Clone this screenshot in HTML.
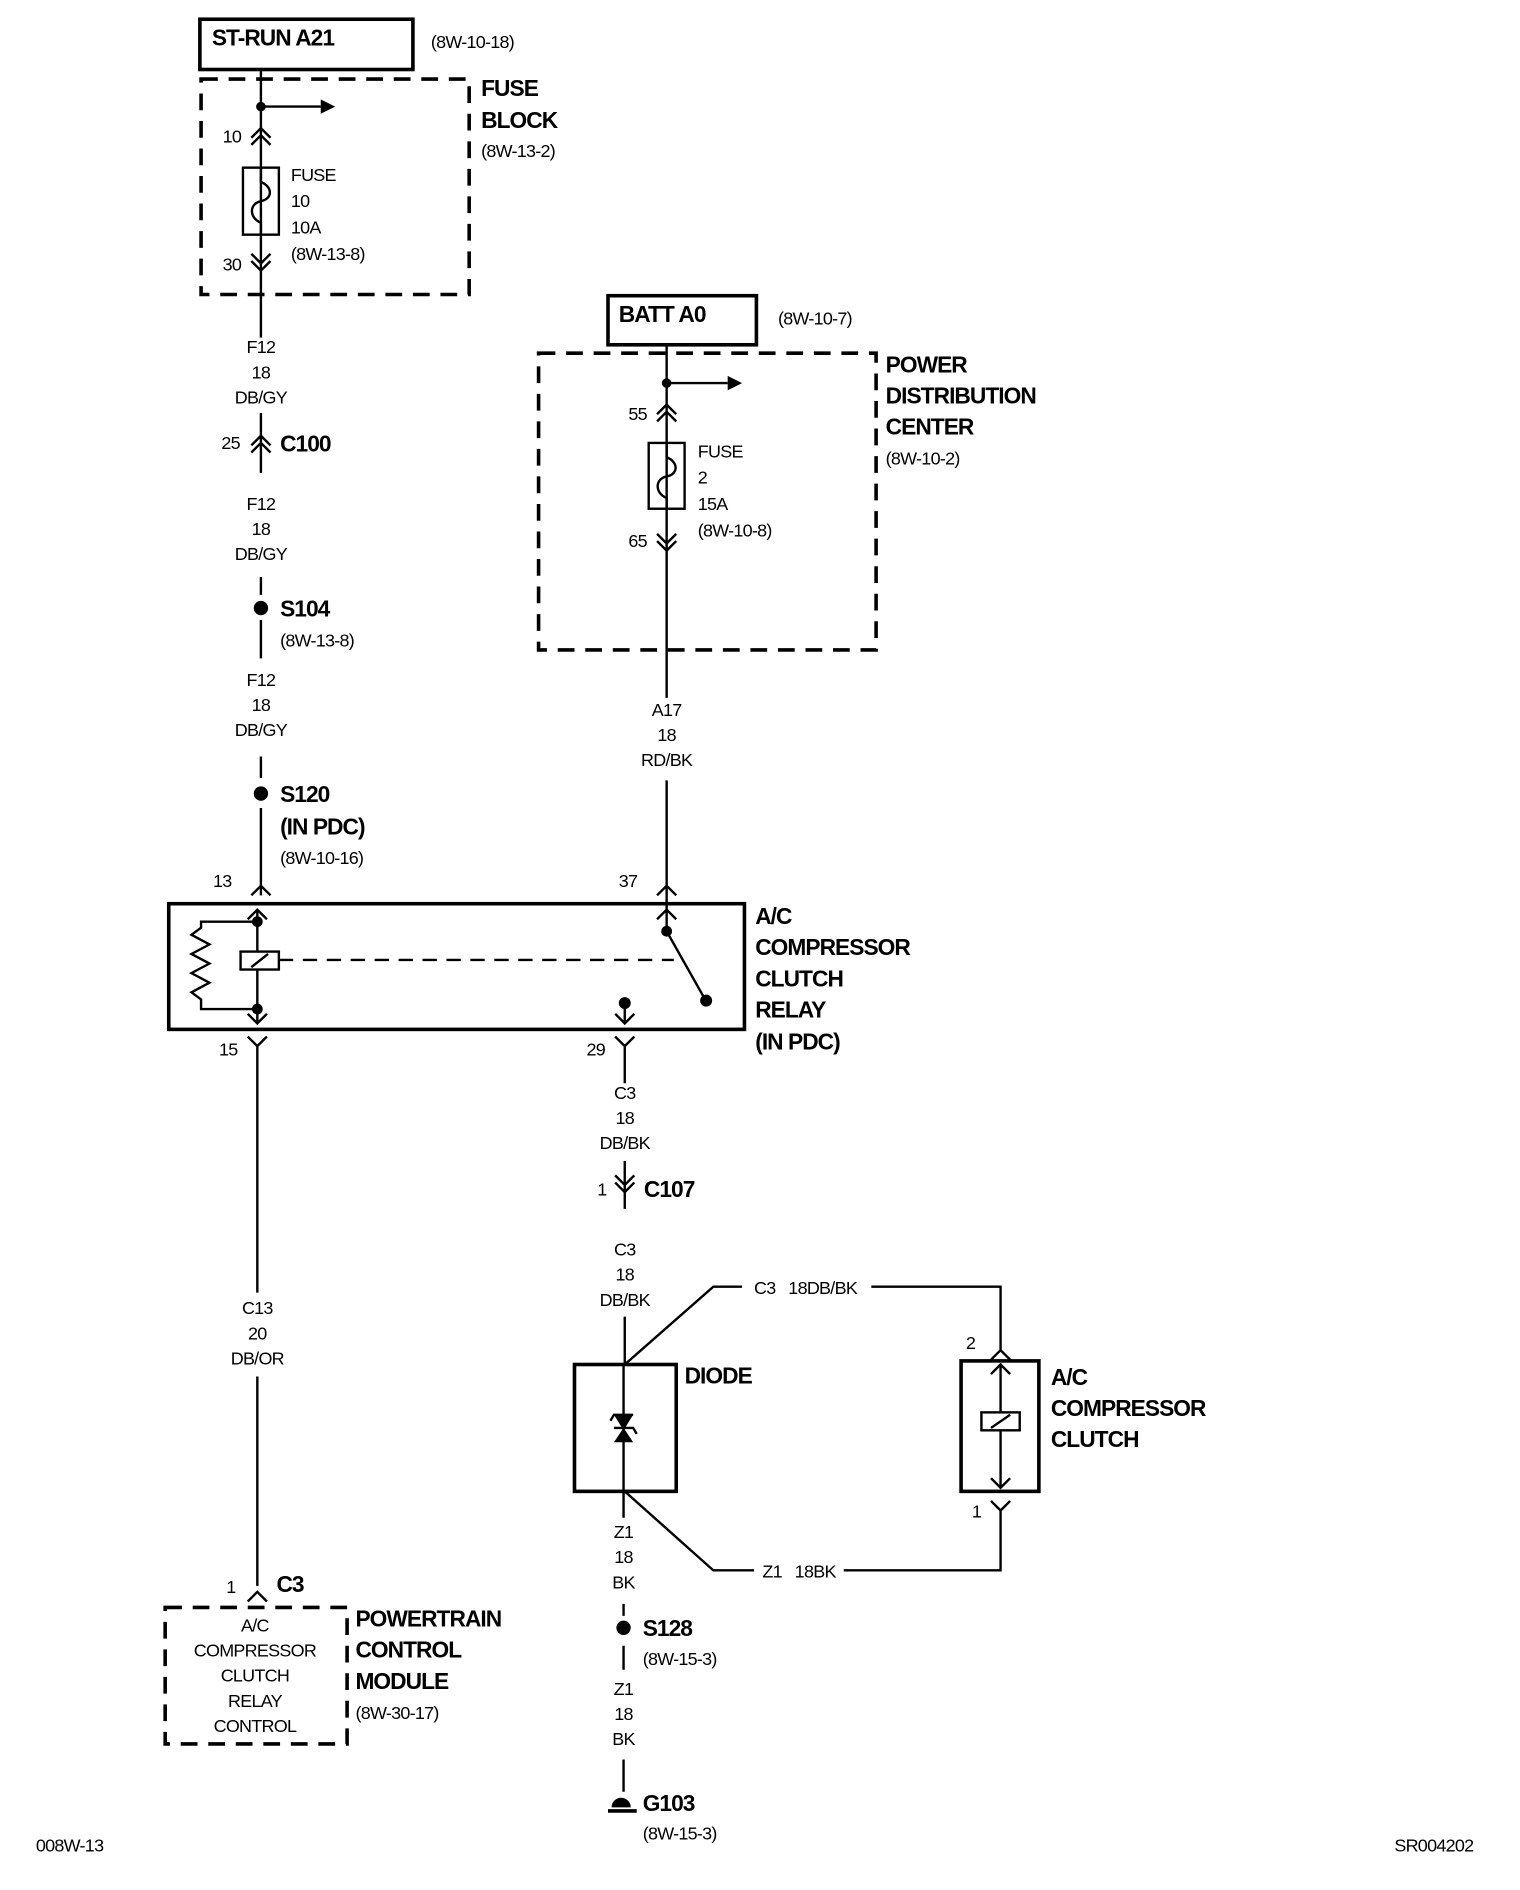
<!DOCTYPE html>
<html><head><meta charset="utf-8"><style>
html,body{margin:0;padding:0;background:#fff;}
svg{display:block}
text{font-family:"Liberation Sans",sans-serif;fill:#000;}
.s{font-size:15px;letter-spacing:-0.6px}
.b{font-size:19px;font-weight:bold;letter-spacing:-0.8px}
.c{text-anchor:middle}
</style></head><body>
<svg width="1520" height="1890" viewBox="0 0 1270 1579" xmlns="http://www.w3.org/2000/svg">
<g fill="none" stroke="#000" stroke-width="2">
<rect x="167" y="16" width="178" height="42" stroke-width="3"/>
<rect x="168" y="66" width="224" height="180" stroke-dasharray="14,9" stroke-width="3"/>
<path d="M218 58V282"/>
<path d="M218 89H268"/>
<path d="M210 121L218 113L226 121M210 115L218 107L226 115"/>
<rect x="203" y="140" width="30" height="56"/>
<path d="M210 218L218 226L226 218M210 212L218 220L226 212"/>
<path d="M218 345V395M210 378L218 370L226 378M210 372L218 364L226 372"/>
<path d="M218 482V497M218 518V550M218 632V650M218 675V748"/>
<path d="M210 748L218 740L226 748"/>
<rect x="508" y="247" width="124" height="41" stroke-width="3"/>
<rect x="450" y="295" width="282" height="248" stroke-dasharray="14,9" stroke-width="3"/>
<path d="M557 288V583M557 652V760M557 320H608"/>
<path d="M549 352L557 344L565 352M549 346L557 338L565 346"/>
<rect x="542" y="370" width="30" height="55"/>
<path d="M549 452L557 460L565 452M549 446L557 454L565 446"/>
<path d="M549 748L557 740L565 748"/>
<rect x="141" y="755" width="481" height="105" stroke-width="3"/>
<path d="M215 760V855M207 768L215 760L223 768M207 847L215 855L223 847"/>
<path d="M215 770H168V775L160 781L175 789L160 797L175 805L160 813L175 821L160 829L168 835V843H215"/>
<rect x="201" y="795" width="32" height="15" fill="#fff"/>
<path d="M210 808L224 797"/>
<path d="M233 802H563" stroke-dasharray="12,8"/>
<path d="M557 760V778M549 768L557 760L565 768M557 778L588 833"/>
<path d="M522 838V855M514 847L522 855L530 847"/>
<path d="M207 866L215 874L223 866M215 874V1080M215 1150V1325"/>
<path d="M514 866L522 874L530 866M522 874V905"/>
<path d="M522 970V1010M514 988L522 996L530 988M514 982L522 990L530 982M522 1100V1140"/>
<rect x="480" y="1140" width="85" height="106" stroke-width="3"/>
<path d="M521 1140V1246"/>
<path d="M522 1140L596 1075H620M728 1075H836V1128"/>
<path d="M828 1136L836 1128L844 1136"/>
<rect x="803" y="1137" width="65" height="109" stroke-width="3"/>
<path d="M836 1140V1243M828 1148L836 1140L844 1148M828 1235L836 1243L844 1235"/>
<rect x="820" y="1180" width="32" height="15" fill="#fff"/>
<path d="M828 1193L844 1182"/>
<path d="M828 1254L836 1262L844 1254M836 1262V1312H705M630 1312H596L522 1246"/>
<path d="M521 1246V1268M521 1340V1350M521 1375V1395M521 1470V1497"/>
<path d="M508 1513H532" stroke-width="3"/>
<path d="M207 1338L215 1330L223 1338"/>
<rect x="138" y="1343" width="152" height="114" stroke-dasharray="14,9" stroke-width="3"/>
</g>
<g fill="#000">
<path d="M268 83L280 89L268 95Z"/>
<path d="M608 314L620 320L608 326Z"/>
<circle cx="218" cy="89" r="4"/><circle cx="557" cy="320" r="4"/>
<circle cx="218" cy="508" r="6"/><circle cx="218" cy="663" r="6"/>
<circle cx="215" cy="770" r="4.5"/><circle cx="215" cy="843" r="4.5"/>
<circle cx="557" cy="778" r="4.5"/><circle cx="590" cy="836" r="5"/><circle cx="522" cy="838" r="5"/>
<path d="M513 1182H529L521 1195Z"/><path d="M513 1205H529L521 1193Z"/>
<circle cx="521" cy="1360" r="6"/>
<path d="M511 1510A8 8 0 0 1 527 1510Z"/>
</g>
<g fill="none" stroke="#000" stroke-width="2">
<path d="M218 140V152C228 156 228 166 218 168C208 170 208 182 218 186V196"/>
<path d="M557 370V382C567 386 567 396 557 398C547 400 547 412 557 416V425"/>
<path d="M510 1187L513 1182H529M513 1193H529L532 1198"/>
</g>
<text class="b" x="177" y="38">ST-RUN A21</text>
<text class="s" x="360" y="40">(8W-10-18)</text>
<text class="b" x="402" y="80">FUSE</text>
<text class="b" x="402" y="107">BLOCK</text>
<text class="s" x="402" y="131">(8W-13-2)</text>
<text class="s" x="186" y="119">10</text>
<text class="s" x="186" y="226">30</text>
<text class="s" x="243" y="151">FUSE</text>
<text class="s" x="243" y="173">10</text>
<text class="s" x="243" y="195">10A</text>
<text class="s" x="243" y="217">(8W-13-8)</text>
<text class="s c" x="218" y="295">F12</text><text class="s c" x="218" y="316">18</text><text class="s c" x="218" y="337">DB/GY</text>
<text class="s c" x="218" y="426">F12</text><text class="s c" x="218" y="447">18</text><text class="s c" x="218" y="468">DB/GY</text>
<text class="s c" x="218" y="573">F12</text><text class="s c" x="218" y="594">18</text><text class="s c" x="218" y="615">DB/GY</text>
<text class="s c" x="557" y="598">A17</text><text class="s c" x="557" y="619">18</text><text class="s c" x="557" y="640">RD/BK</text>
<text class="s c" x="522" y="918">C3</text><text class="s c" x="522" y="939">18</text><text class="s c" x="522" y="960">DB/BK</text>
<text class="s c" x="522" y="1049">C3</text><text class="s c" x="522" y="1070">18</text><text class="s c" x="522" y="1091">DB/BK</text>
<text class="s c" x="215" y="1098">C13</text><text class="s c" x="215" y="1119">20</text><text class="s c" x="215" y="1140">DB/OR</text>
<text class="s c" x="521" y="1285">Z1</text><text class="s c" x="521" y="1306">18</text><text class="s c" x="521" y="1327">BK</text>
<text class="s c" x="521" y="1416">Z1</text><text class="s c" x="521" y="1437">18</text><text class="s c" x="521" y="1458">BK</text>
<text class="s c" x="213" y="1363">A/C</text><text class="s c" x="213" y="1384">COMPRESSOR</text><text class="s c" x="213" y="1405">CLUTCH</text><text class="s c" x="213" y="1426">RELAY</text><text class="s c" x="213" y="1447">CONTROL</text>
<text class="s" x="185" y="375">25</text>
<text class="b" x="234" y="377">C100</text>
<text class="b" x="234" y="515">S104</text>
<text class="s" x="234" y="540">(8W-13-8)</text>
<text class="b" x="234" y="670">S120</text>
<text class="b" x="234" y="697">(IN PDC)</text>
<text class="s" x="234" y="722">(8W-10-16)</text>
<text class="b" x="517" y="269">BATT A0</text>
<text class="s" x="650" y="271">(8W-10-7)</text>
<text class="b" x="740" y="311">POWER</text>
<text class="b" x="740" y="337">DISTRIBUTION</text>
<text class="b" x="740" y="363">CENTER</text>
<text class="s" x="740" y="388">(8W-10-2)</text>
<text class="s" x="525" y="351">55</text>
<text class="s" x="525" y="457">65</text>
<text class="s" x="583" y="382">FUSE</text>
<text class="s" x="583" y="404">2</text>
<text class="s" x="583" y="426">15A</text>
<text class="s" x="583" y="448">(8W-10-8)</text>
<text class="s" x="178" y="741">13</text>
<text class="s" x="517" y="741">37</text>
<text class="b" x="631" y="772">A/C</text>
<text class="b" x="631" y="798">COMPRESSOR</text>
<text class="b" x="631" y="824">CLUTCH</text>
<text class="b" x="631" y="850">RELAY</text>
<text class="b" x="631" y="877">(IN PDC)</text>
<text class="s" x="183" y="882">15</text>
<text class="s" x="490" y="882">29</text>
<text class="s" x="499" y="999">1</text>
<text class="b" x="538" y="1000">C107</text>
<text class="s" x="630" y="1081">C3&#160;&#160;&#160;18DB/BK</text>
<text class="s" x="637" y="1318">Z1&#160;&#160;&#160;18BK</text>
<text class="b" x="572" y="1156">DIODE</text>
<text class="b" x="878" y="1157">A/C</text>
<text class="b" x="878" y="1183">COMPRESSOR</text>
<text class="b" x="878" y="1209">CLUTCH</text>
<text class="s" x="807" y="1127">2</text>
<text class="s" x="812" y="1268">1</text>
<text class="b" x="537" y="1367">S128</text>
<text class="s" x="537" y="1391">(8W-15-3)</text>
<text class="b" x="537" y="1513">G103</text>
<text class="s" x="537" y="1537">(8W-15-3)</text>
<text class="s" x="189" y="1331">1</text>
<text class="b" x="231" y="1330">C3</text>
<text class="b" x="297" y="1359">POWERTRAIN</text>
<text class="b" x="297" y="1385">CONTROL</text>
<text class="b" x="297" y="1411">MODULE</text>
<text class="s" x="297" y="1436">(8W-30-17)</text>
<text class="s" x="30" y="1547">008W-13</text>
<text class="s" x="1165" y="1547">SR004202</text>
</svg>
</body></html>
